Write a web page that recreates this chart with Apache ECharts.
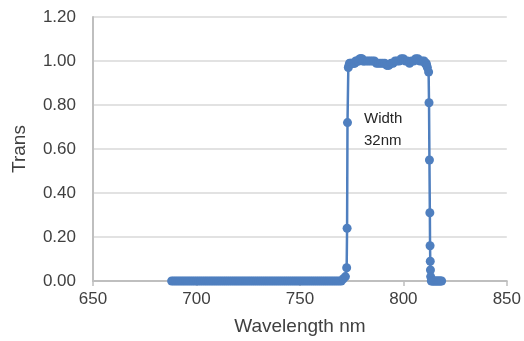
<!DOCTYPE html>
<html>
<head>
<meta charset="utf-8">
<script src="https://cdn.jsdelivr.net/npm/echarts@6/dist/echarts.min.js"></script>
<style>
  html, body { margin: 0; padding: 0; background: #fff; }
  #chart { width: 524px; height: 341px; }
</style>
</head>
<body>
<div id="chart"></div>
<script>
// wavelength (nm) and transmission
const wavelength = [
  688, 689, 690, 691, 692, 693, 694, 695, 696, 697, 698, 699, 700, 701, 702,
  703, 704, 705, 706, 707, 708, 709, 710, 711, 712, 713, 714, 715, 716, 717,
  718, 719, 720, 721, 722, 723, 724, 725, 726, 727, 728, 729, 730, 731, 732,
  733, 734, 735, 736, 737, 738, 739, 740, 741, 742, 743, 744, 745, 746, 747,
  748, 749, 750, 751, 752, 753, 754, 755, 756, 757, 758, 759, 760, 761, 762,
  763, 764, 765, 766, 767, 768, 769, 770, 771, 772,
  772.6, 772.8, 773.0, 773.4,
  773.7, 774, 774.5, 775, 775.5, 776, 776.5, 777, 777.5, 778, 778.5, 779, 779.5,
  780, 780.5, 781, 782, 783, 784, 785, 786, 787, 788, 789, 790, 791, 792, 793,
  794, 795, 796, 797, 798, 799, 800, 801, 802, 803, 804, 805, 806, 807, 808,
  809, 810, 810.5, 811, 811.3, 811.6,
  812.2, 812.4, 812.6, 812.8, 812.9, 813.0, 813.1, 813.2,
  813.5, 814, 814.5, 815, 815.5, 816, 816.5, 817, 817.5, 818, 818.5
];
const trans = [
  0, 0, 0, 0, 0, 0, 0, 0, 0, 0, 0, 0, 0, 0, 0,
  0, 0, 0, 0, 0, 0, 0, 0, 0, 0, 0, 0, 0, 0, 0,
  0, 0, 0, 0, 0, 0, 0, 0, 0, 0, 0, 0, 0, 0, 0,
  0, 0, 0, 0, 0, 0, 0, 0, 0, 0, 0, 0, 0, 0, 0,
  0, 0, 0, 0, 0, 0, 0, 0, 0, 0, 0, 0, 0, 0, 0,
  0, 0, 0, 0, 0, 0, 0, 0, 0.01, 0.02,
  0.06, 0.24, 0.72, 0.97,
  0.98, 0.99, 0.99, 0.99, 0.99, 0.99, 0.99, 1.00, 1.00, 1.00, 1.00, 1.01, 1.01,
  1.01, 1.00, 1.00, 1.00, 1.00, 1.00, 1.00, 1.00, 0.99, 0.99, 0.99, 0.99, 0.99, 0.98, 0.98,
  0.99, 0.99, 1.00, 1.00, 1.00, 1.01, 1.01, 1.00, 1.00, 0.99, 1.00, 1.00, 1.01, 1.01, 1.00,
  1.00, 1.00, 0.99, 0.99, 0.98, 0.97,
  0.95, 0.81, 0.55, 0.31, 0.16, 0.09, 0.05, 0.02,
  0, 0, 0, 0, 0, 0, 0, 0, 0, 0, 0
];
const xTicks = [650, 700, 750, 800, 850];
const yTicks = [0, 0.2, 0.4, 0.6, 0.8, 1.0, 1.2];

const blue = '#4f7fbf';
const textColor = '#404040';
const font = 'Liberation Sans, Arial, sans-serif';

const chart = echarts.init(document.getElementById('chart'));

chart.setOption({
  animation: false,
  grid: { left: 93, right: 17, top: 17, bottom: 60 },
  xAxis: {
    type: 'value',
    min: xTicks[0],
    max: xTicks[xTicks.length - 1],
    interval: 50,
    name: 'Wavelength nm',
    nameLocation: 'middle',
    nameGap: 36,
    nameTextStyle: { color: textColor, fontSize: 19, fontFamily: font },
    axisLine: { show: true, lineStyle: { color: '#bfbfbf', width: 2 } },
    axisTick: { show: true, length: 5, lineStyle: { color: '#bfbfbf', width: 1.5 } },
    axisLabel: { color: textColor, fontSize: 17, fontFamily: font, margin: 10 },
    splitLine: { show: false }
  },
  yAxis: {
    type: 'value',
    min: yTicks[0],
    max: yTicks[yTicks.length - 1],
    interval: 0.2,
    name: 'Trans',
    nameLocation: 'middle',
    nameGap: 64,
    nameRotate: 90,
    nameTextStyle: { color: textColor, fontSize: 19, fontFamily: font },
    axisLine: { show: true, lineStyle: { color: '#bfbfbf', width: 2 } },
    axisTick: { show: false },
    axisLabel: {
      color: textColor, fontSize: 17, fontFamily: font, margin: 17,
      formatter: v => v.toFixed(2)
    },
    splitLine: { show: true, lineStyle: { color: '#d9d9d9', width: 1.5 } }
  },
  graphic: [{
    type: 'text',
    left: 364,
    top: 108,
    style: {
      text: 'Width\n32nm',
      fontSize: 15,
      fontFamily: font,
      fill: '#262626',
      lineHeight: 22,
      align: 'left'
    }
  }],
  series: [{
    type: 'line',
    data: wavelength.map((w, i) => [w, trans[i]]),
    symbol: 'circle',
    symbolSize: 9,
    showAllSymbol: true,
    lineStyle: { color: blue, width: 2.5 },
    itemStyle: { color: blue },
    z: 3
  }]
});
</script>
</body>
</html>
